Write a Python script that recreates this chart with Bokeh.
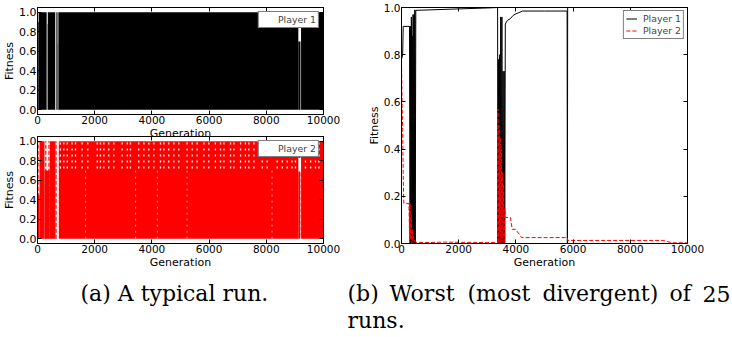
from bokeh.plotting import figure
from bokeh.models import (Range1d, LinearAxis, FixedTicker, PrintfTickFormatter,
                          BasicTickFormatter, Legend, LegendItem)
from bokeh.layouts import column, row
from bokeh.embed import file_html
from bokeh.resources import INLINE
from bokeh.core.properties import value

# ---------------- data ----------------
x_ticks = [0, 2000, 4000, 6000, 8000, 10000]
y_ticks = [0.0, 0.2, 0.4, 0.6, 0.8, 1.0]

# (a) typical run, Player 1: envelope bands of the rapidly oscillating fitness
a1_start = [0, 40, 360, 660, 730, 9120, 9120, 9215]
a1_end = [40, 320, 620, 700, 9120, 9195, 9195, 10000]
a1_low = [0.0, 0.0, 0.0, 0.0, 0.0, 0.0, 0.86, 0.0]
a1_high = [0.90, 1.0, 1.0, 1.0, 1.0, 0.70, 1.0, 1.0]
a1_notch_start = [320, 700]
a1_notch_end = [350, 730]
a1_notch_high = [0.88, 0.68]

# (a) typical run, Player 2: envelope bands
a2_start = [0, 70, 245, 430, 745, 9120, 9120, 9215]
a2_end = [70, 245, 430, 630, 9120, 9195, 9195, 10000]
a2_low = [0.0, 0.0, 0.0, 0.0, 0.0, 0.0, 0.83, 0.0]
a2_high = [0.45, 1.0, 0.70, 1.0, 1.0, 0.69, 1.0, 1.0]
# isolated full-height dashed strokes in the sparse early part
a2_stroke_gen = [20, 290, 400, 650]
# generations where the dashed strokes leave visible gaps in the upper band
a2_gap_gen = [800, 920, 1040, 1210, 1330, 1560, 1760, 2090, 2200, 2320, 2490,
              2670, 2960, 3140, 3250, 3540, 3720, 3890, 4070, 4300, 4420, 4590,
              4770, 4940, 5230, 5410, 5580, 5820, 5990, 6220, 6400, 6520, 6750,
              6870, 7100, 7270, 7390, 7570, 7860, 8030, 8380, 8560, 8730, 8900,
              9020, 9370, 9550, 9720, 9840]
a2_low_gap_gen = [1680, 3430, 4190, 5230, 8200, 9200]

# (b) worst run
w_gen1 = [0, 40, 60, 280, 300, 315, 330, 345, 360, 375, 390, 405, 420, 435,
          450, 465, 480, 500, 1000, 2000, 3000, 3360, 3370, 3390, 3410, 3430,
          3450, 3470, 3490, 3510, 3530, 3550, 3570, 3590, 3610, 3630, 3700,
          3800, 3900, 4000, 4100, 4230, 5000, 5790, 5800, 5810, 6000, 10000]
w_fit1 = [0.78, 0.80, 0.92, 0.92, 0.0, 0.92, 0.0, 0.96, 0.0, 0.88, 0.0, 0.97,
          0.0, 0.97, 0.0, 0.99, 0.0, 0.988, 0.99, 0.994, 0.998, 1.0, 0.0, 0.78,
          0.0, 0.80, 0.0, 0.96, 0.0, 0.96, 0.0, 0.73, 0.0, 0.73, 0.0, 0.93,
          0.945, 0.952, 0.966, 0.973, 0.978, 0.985, 0.985, 0.985, 0.0, 1.0,
          1.0, 1.0]
w_gen2 = [0, 20, 40, 60, 80, 260, 280, 300, 320, 340, 360, 380, 400, 420, 460,
          500, 1000, 1500, 2000, 3000, 3360, 3370, 3390, 3410, 3430, 3450, 3470,
          3490, 3510, 3530, 3550, 3570, 3590, 3610, 3630, 3810, 3870, 3990,
          4200, 5800, 5810, 9150, 9450, 10000]
w_fit2 = [0.77, 0.60, 0.48, 0.30, 0.17, 0.17, 0.04, 0.17, 0.02, 0.12, 0.0,
          0.06, 0.01, 0.03, 0.01, 0.005, 0.004, 0.006, 0.005, 0.004, 0.004,
          0.57, 0.0, 0.50, 0.05, 0.45, 0.0, 0.40, 0.02, 0.30, 0.0, 0.25, 0.0,
          0.15, 0.11, 0.11, 0.06, 0.06, 0.025, 0.025, 0.013, 0.013, 0.003,
          0.003]

cap_words = ["(a) A typical run.", "(b)", "Worst", "(most", "divergent)", "of",
             "25", "runs."]
cap_x = [80, 347, 389, 467, 542, 669, 702, 347]
cap_y = [22, 22, 22, 22, 22, 22, 22, 49]

FONT = "DejaVu Sans"


def style_axis(ax, size, show=True):
    ax.major_tick_in = 4
    ax.major_tick_out = 0
    ax.minor_tick_in = 0
    ax.minor_tick_out = 0
    ax.axis_line_color = "black"
    ax.major_tick_line_color = "black"
    ax.major_label_text_font = FONT
    ax.major_label_text_color = "black"
    ax.major_label_standoff = 1
    ax.axis_label_text_font = FONT
    ax.axis_label_text_font_size = "11px"
    ax.axis_label_text_font_style = "normal"
    ax.axis_label_text_color = "black"
    ax.axis_label_standoff = 0
    ax.major_label_text_font_size = size
    if not show:
        ax.major_label_standoff = 0


def make_fig(width, height, left, right, top, bottom, yr, ysize):
    p = figure(width=width, height=height, x_range=Range1d(0, 10000),
               y_range=Range1d(*yr), output_backend="svg",
               toolbar_location=None, min_border_left=left,
               min_border_right=right, min_border_top=top,
               min_border_bottom=bottom)
    p.xgrid.visible = False
    p.ygrid.visible = False
    p.outline_line_color = "black"
    p.outline_line_alpha = 1
    p.border_fill_color = None
    p.background_fill_color = None
    p.xaxis.ticker = FixedTicker(ticks=x_ticks)
    p.xaxis.formatter = BasicTickFormatter(use_scientific=False)
    p.yaxis.ticker = FixedTicker(ticks=y_ticks)
    p.yaxis.formatter = PrintfTickFormatter(format="%.1f")
    style_axis(p.xaxis[0], "10.5px")
    style_axis(p.yaxis[0], ysize)
    p.xaxis.axis_label = "Generation"
    p.yaxis.axis_label = "Fitness"
    top_ax = LinearAxis(ticker=FixedTicker(ticks=x_ticks),
                        major_label_overrides={t: "" for t in x_ticks})
    style_axis(top_ax, "1px", show=False)
    p.add_layout(top_ax, "above")
    right_ax = LinearAxis(ticker=FixedTicker(ticks=y_ticks),
                          major_label_overrides={t: "" for t in y_ticks})
    style_axis(right_ax, "1px", show=False)
    p.add_layout(right_ax, "right")
    return p


def add_legend(p, items, margin):
    leg = Legend(items=items, location="top_right", margin=margin, padding=2,
                 spacing=1, label_standoff=6, glyph_width=11, glyph_height=11,
                 label_height=11, label_text_font=FONT,
                 label_text_font_size="9.4px", border_line_color="black",
                 border_line_width=1, background_fill_color="white",
                 background_fill_alpha=1)
    p.add_layout(leg)


# ---- (a) top: Player 1 ----
p1 = make_fig(340, 142, 37, 17, 7, 28, (-0.05, 1.05), "11px")
p1.quad(left=a1_start, right=a1_end, bottom=a1_low, top=a1_high,
        fill_color="black", line_color=None)
p1.quad(left=a1_notch_start, right=a1_notch_end, bottom=[0, 0],
        top=a1_notch_high, fill_color="#555555", line_color=None)
l1 = p1.line(x=[], y=[], line_color="black", line_width=1)
add_legend(p1, [LegendItem(label="Player 1", renderers=[l1])], 4)

# ---- (a) bottom: Player 2 ----
p2 = make_fig(340, 141, 37, 17, 6, 27, (-0.05, 1.05), "11px")
p2.margin = (-12, 0, 0, 0)
p2.quad(left=a2_start, right=a2_end, bottom=a2_low, top=a2_high,
        fill_color="#ff0000", line_color=None)
p2.segment(x0=a2_stroke_gen, x1=a2_stroke_gen,
           y0=[0.0] * len(a2_stroke_gen), y1=[1.0] * len(a2_stroke_gen),
           line_color="#ff0000", line_width=1.2, line_dash="4 2")
p2.segment(x0=a2_gap_gen, x1=a2_gap_gen, y0=[0.72] * len(a2_gap_gen),
           y1=[1.0] * len(a2_gap_gen), line_color="white", line_width=1.3,
           line_dash="2 4")
p2.segment(x0=a2_low_gap_gen, x1=a2_low_gap_gen,
           y0=[0.0] * len(a2_low_gap_gen), y1=[0.7] * len(a2_low_gap_gen),
           line_color="white", line_width=1, line_alpha=0.6, line_dash="2 4")
l2 = p2.line(x=[], y=[], line_color="#ff0000", line_width=1, line_dash="4 2")
add_legend(p2, [LegendItem(label="Player 2", renderers=[l2])], 4)

# ---- (b) worst run ----
p3 = make_fig(392, 271, 61, 45, 7, 27, (0, 1), "10.5px")
r1 = p3.line(w_gen1, w_fit1, line_color="black", line_width=1)
r2 = p3.line(w_gen2, w_fit2, line_color="#ff0000", line_width=1,
             line_dash="4 2")
add_legend(p3, [LegendItem(label="Player 1", renderers=[r1]),
                LegendItem(label="Player 2", renderers=[r2])], 3)

# ---- captions ----
pc = figure(width=732, height=66, x_range=Range1d(0, 732),
            y_range=Range1d(66, 0), min_border=0, output_backend="svg",
            toolbar_location=None, x_axis_location=None,
            y_axis_location=None)
pc.grid.visible = False
pc.outline_line_color = None
pc.border_fill_color = None
pc.background_fill_color = None
pc.text(x=cap_x, y=cap_y, text=cap_words,
        text_font=value("DejaVu Serif"), text_font_size="22px",
        text_baseline="alphabetic", text_align="left", text_color="black")

root = column(row(column(p1, p2), p3), pc)

open("out.html", "w").write(file_html(root, INLINE))
